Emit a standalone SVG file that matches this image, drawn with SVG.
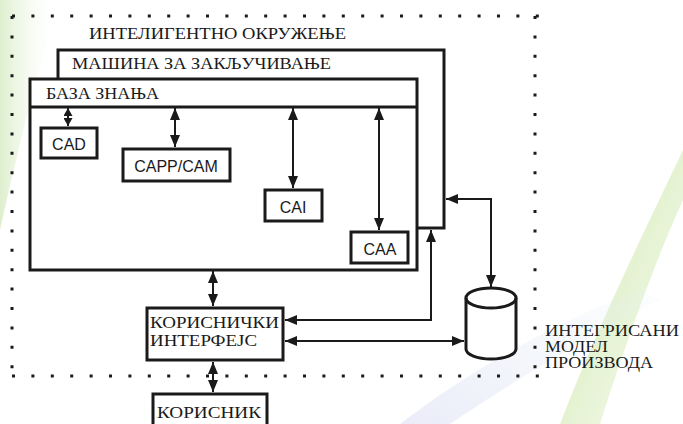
<svg xmlns="http://www.w3.org/2000/svg" width="683" height="424" viewBox="0 0 683 424">
  <style>
    .box { fill: #ffffff; stroke: #1a1a1a; stroke-width: 3; }
    .inner { fill: none; stroke: #1a1a1a; stroke-width: 3; }
    .ser { font-family: "Liberation Serif", "Times New Roman", serif; fill: #1a1a1a; }
    .sans { font-family: "Liberation Sans", Arial, sans-serif; fill: #1a1a1a; font-size: 16px; text-anchor: middle; }
    .con { fill: none; stroke: #1a1a1a; stroke-width: 2; }
    .dots { fill: none; stroke: #1a1a1a; stroke-width: 3; stroke-dasharray: 3 16.4; }
  </style>
  <defs>
    <marker id="ah" markerUnits="userSpaceOnUse" markerWidth="12" markerHeight="10" refX="12" refY="5" orient="auto-start-reverse" viewBox="0 0 12 10">
      <path d="M0,0 L12,5 L0,10 Z" fill="#1a1a1a"/>
    </marker>
    <marker id="ahs" markerUnits="userSpaceOnUse" markerWidth="8" markerHeight="9" refX="8" refY="4.5" orient="auto-start-reverse" viewBox="0 0 8 9">
      <path d="M0,0 L8,4.5 L0,9 Z" fill="#1a1a1a"/>
    </marker>
    <linearGradient id="gL" x1="0" y1="0" x2="1" y2="0">
      <stop offset="0" stop-color="#cfe8b8" stop-opacity="0.7"/>
      <stop offset="1" stop-color="#ffffff" stop-opacity="0"/>
    </linearGradient>
    <linearGradient id="gR" x1="0" y1="0" x2="1" y2="1">
      <stop offset="0" stop-color="#ffffff" stop-opacity="0"/>
      <stop offset="0.5" stop-color="#cfe8ac" stop-opacity="0.55"/>
      <stop offset="1" stop-color="#d8ecc0" stop-opacity="0.25"/>
    </linearGradient>
    <linearGradient id="gB" x1="0" y1="1" x2="1" y2="0">
      <stop offset="0" stop-color="#d6d8f2" stop-opacity="0.5"/>
      <stop offset="1" stop-color="#e6f2f6" stop-opacity="0.15"/>
    </linearGradient>
  </defs>

  <rect width="683" height="424" fill="#ffffff"/>
  <g id="background">
    <path d="M0,0 L60,0 C40,60 20,140 0,230 Z" fill="url(#gL)"/>
    <path d="M683,150 C650,220 600,320 560,424 L600,424 C630,330 660,250 683,200 Z" fill="url(#gR)"/>
    <path d="M400,424 C470,370 560,320 640,290 L660,300 C580,340 500,390 450,424 Z" fill="url(#gB)"/>
  </g>

  <g id="intelligent-environment">
    <line class="dots" x1="12" y1="16" x2="540" y2="16"/>
    <line class="dots" x1="12" y1="376" x2="540" y2="376"/>
    <line class="dots" x1="12" y1="16" x2="12" y2="380"/>
    <line class="dots" x1="535" y1="16" x2="535" y2="380"/>
    <text class="ser" x="89" y="39" font-size="17" textLength="257" lengthAdjust="spacingAndGlyphs">ИНТЕЛИГЕНТНО ОКРУЖЕЊЕ</text>
  </g>

  <g id="inference-engine">
    <rect class="box" x="58" y="50" width="386" height="178"/>
    <text class="ser" x="72" y="69" font-size="17" textLength="259" lengthAdjust="spacingAndGlyphs">МАШИНА ЗА ЗАКЉУЧИВАЊЕ</text>
  </g>

  <g id="knowledge-base">
    <rect class="box" x="30" y="79" width="387" height="191"/>
    <line class="inner" x1="30" y1="107" x2="417" y2="107"/>
    <text class="ser" x="46" y="99" font-size="17" textLength="113" lengthAdjust="spacingAndGlyphs">БАЗА ЗНАЊА</text>
  </g>

  <g id="cad">
    <rect class="box" x="41" y="128" width="56" height="30"/>
    <text class="sans" x="69" y="150">CAD</text>
  </g>
  <g id="capp-cam">
    <rect class="box" x="123" y="149" width="107" height="32"/>
    <text class="sans" x="176" y="172">CAPP/CAM</text>
  </g>
  <g id="cai">
    <rect class="box" x="265" y="190" width="57" height="31"/>
    <text class="sans" x="293" y="213">CAI</text>
  </g>
  <g id="caa">
    <rect class="box" x="351" y="232" width="57" height="31"/>
    <text class="sans" x="380" y="255">CAA</text>
  </g>

  <g id="user-interface">
    <rect class="box" x="147" y="308" width="136" height="52"/>
    <text class="ser" x="150" y="328" font-size="16" textLength="129" lengthAdjust="spacingAndGlyphs">КОРИСНИЧКИ</text>
    <text class="ser" x="150" y="346" font-size="16" textLength="107" lengthAdjust="spacingAndGlyphs">ИНТЕРФЕЈС</text>
  </g>

  <g id="user">
    <rect class="box" x="153" y="394" width="114" height="40"/>
    <text class="ser" x="157" y="418" font-size="17" textLength="104" lengthAdjust="spacingAndGlyphs">КОРИСНИК</text>
  </g>

  <g id="product-model">
    <path d="M466,298 A25,10 0 0 1 516,298 L516,349 A25,10 0 0 1 466,349 Z" fill="#ffffff" stroke="#1a1a1a" stroke-width="3"/>
    <path d="M466,298 A25,10 0 0 0 516,298" fill="none" stroke="#1a1a1a" stroke-width="3"/>
    <text class="ser" x="545" y="336" font-size="16" textLength="134" lengthAdjust="spacingAndGlyphs">ИНТЕГРИСАНИ</text>
    <text class="ser" x="545" y="352" font-size="16" textLength="63" lengthAdjust="spacingAndGlyphs">МОДЕЛ</text>
    <text class="ser" x="545" y="368" font-size="16" textLength="108" lengthAdjust="spacingAndGlyphs">ПРОИЗВОДА</text>
  </g>

  <g id="connectors">
    <line class="con" x1="68" y1="108" x2="68" y2="126" marker-start="url(#ahs)" marker-end="url(#ahs)"/>
    <line class="con" x1="175" y1="108" x2="175" y2="147" marker-start="url(#ah)" marker-end="url(#ah)"/>
    <line class="con" x1="293" y1="108" x2="293" y2="188" marker-start="url(#ah)" marker-end="url(#ah)"/>
    <line class="con" x1="379" y1="108" x2="379" y2="230" marker-start="url(#ah)" marker-end="url(#ah)"/>
    <line class="con" x1="213" y1="271" x2="213" y2="306" marker-start="url(#ah)" marker-end="url(#ah)"/>
    <line class="con" x1="213" y1="362" x2="213" y2="392" marker-start="url(#ah)" marker-end="url(#ah)"/>
    <line class="con" x1="285" y1="341" x2="464" y2="341" marker-start="url(#ah)" marker-end="url(#ah)"/>
    <polyline class="con" points="285,320 431,320 431,230" marker-start="url(#ah)" marker-end="url(#ah)"/>
    <polyline class="con" points="446,199 491,199 491,287" marker-start="url(#ah)" marker-end="url(#ah)"/>
  </g>
</svg>
